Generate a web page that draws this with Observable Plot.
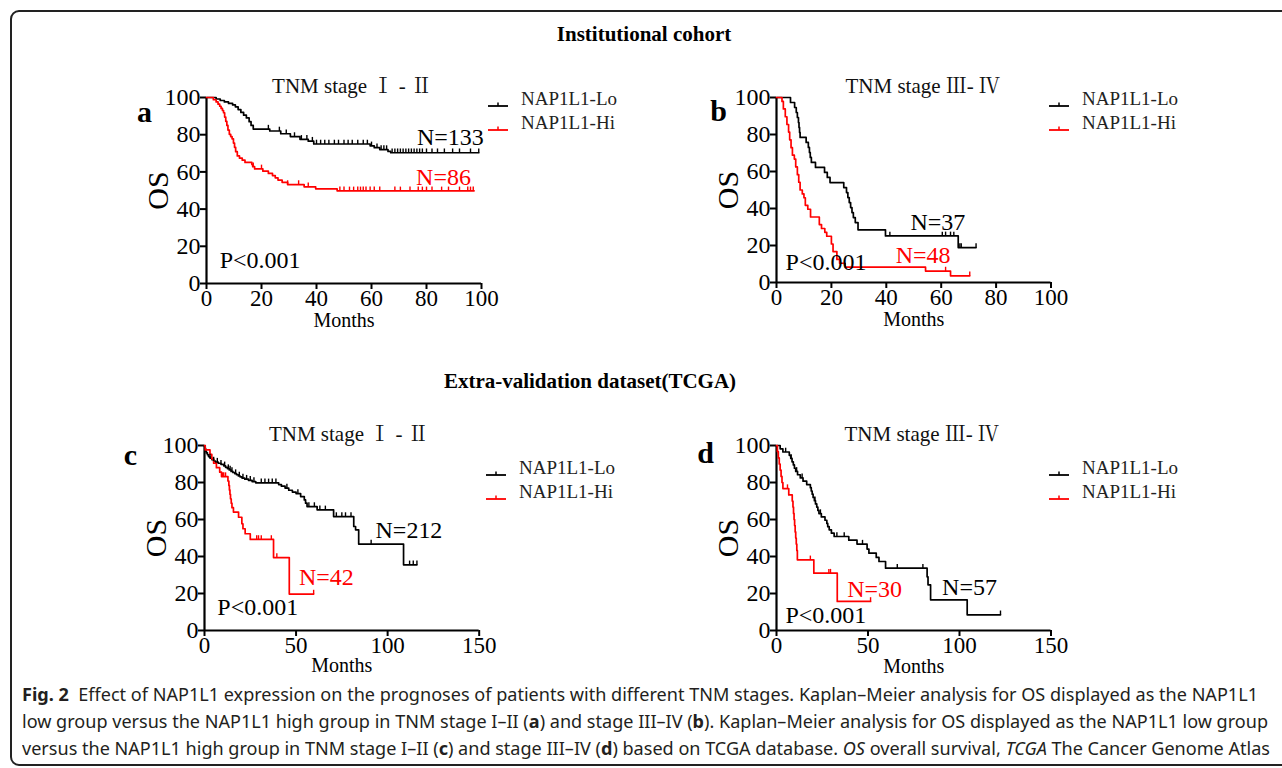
<!DOCTYPE html>
<html><head><meta charset="utf-8">
<script src="https://cdn.jsdelivr.net/npm/d3@7"></script>
<script src="https://cdn.jsdelivr.net/npm/@observablehq/plot@0.6"></script>
<style>
html,body{margin:0;padding:0;background:#fff;}
body{width:1282px;height:768px;overflow:hidden;position:relative;font-family:"Liberation Serif","Times New Roman",serif;}
#box{position:absolute;left:10px;top:10px;width:1300px;height:752px;border:2px solid #222;border-radius:9px;}
.abs{position:absolute;}
.sect{position:absolute;font-weight:bold;font-size:21px;transform:translate(-50%,-50%);white-space:nowrap;color:#000;}
.leg{position:absolute;font-size:19px;color:#222;white-space:nowrap;line-height:1;}
.cap{position:absolute;left:22px;font-family:"Noto Sans","Open Sans",sans-serif;font-size:18px;color:#231f20;white-space:nowrap;transform-origin:0 50%;line-height:1;}
.cap b{font-weight:700;}
svg{overflow:visible;}
</style>
</head><body>
<div id="box"></div>
<div id="root"></div>
<script>
// ---------- Data ----------
// Each step array: [months, OS %] = survival drops to value at that time
const aLo = [[0,100],[3.5,99.2],[5,98.4],[6.5,97.6],[8,96.8],[9.5,96],[10.5,95],[11.5,93.5],[12.5,92],[13.5,90.5],[14.5,89],[15.5,87],[16.2,85],[17,83],[23,82],[27,80.5],[30.5,79],[34,77.5],[37,76.5],[39,75],[59.5,74],[61,73],[63,72],[66,71],[67,70.3]];
const aLoEnd = 99;
const aLoCens = [22.5,26.5,29,32,34.5,36.5,38.5,40,41.5,43,44.5,46.5,48,50,51.5,53,55,57,58.5,60,62,63.5,64.5,65.5,67.5,68.5,69.5,70.5,71.5,72.5,73.5,74.5,75.5,76.5,77.5,78.5,80,82,84,86.5,89.5,92,96,99];
const aHi = [[0,100],[2.5,98.8],[3.5,97.6],[4.2,96.4],[4.8,95.3],[5.3,94.1],[5.8,93],[6.2,91.8],[6.6,89.5],[7,87.2],[7.4,85],[7.8,82.5],[8.3,80.2],[8.8,79],[9.3,77.8],[9.8,75.5],[10.2,73.2],[10.6,70.9],[11.2,68.6],[12,67.4],[13,66.3],[14,65.1],[16.5,64],[16.8,62.8],[17.5,61.6],[20.5,60.4],[22.5,59.2],[24,58],[25,56.8],[26,55.6],[27.5,54.4],[29.5,53.2],[35.5,52],[39.7,50.9],[47.5,49.8]];
const aHiEnd = 97.3;
const aHiCens = [17,20,29.5,33.5,37,48.5,50,52,53.5,55,56,57,58,59.5,61,63,68.5,70.5,74,77,78.5,80,82,85.5,88,92,95,96,97];

const bLo = [[0,100],[5.1,97.3],[6.6,94.6],[7.2,91.9],[7.6,89.2],[8,86.5],[8.2,83.8],[8.4,81.1],[8.6,78.4],[10.8,75.7],[11.6,73],[12,70.3],[12.3,67.6],[12.7,64.9],[14.2,62.2],[17.5,59.5],[18.5,56.8],[19.5,54],[24.5,51.3],[25.5,48.6],[26,45.9],[26.5,43.2],[27,40.5],[27.5,37.8],[28,35.1],[28.7,32.4],[29.7,28.5],[39.7,25.2],[66.2,18.9]];
const bLoEnd = 72.7;
const bLoCens = [41.3,60.4,61.6,63.4,64.6,66.8,67.3,72.7];
const bHi = [[0,100],[2,97.9],[2.5,93.8],[3.2,89.6],[3.8,85.4],[4.4,81.3],[4.8,77.1],[5.3,72.9],[5.8,68.8],[6.5,66.7],[7,62.5],[7.6,58.3],[8.1,54.2],[8.6,50],[9.4,47.9],[10,45.8],[10.5,41.7],[11.4,39.6],[12.4,35.4],[15.6,31.3],[16.4,29.2],[17.6,27.1],[18.3,25],[20,20.8],[20.6,16.7],[22,12.5],[23,10.4],[25,8.3],[54.3,6.2],[63.4,3.6]];
const bHiEnd = 70.4;
const bHiCens = [61.6,70.4];

const cLo = [[0,100],[0.3,98.5],[0.6,97],[1,96],[1.6,95],[2.2,94],[3,93.2],[4,92.4],[5,91.6],[6,91],[7.5,90.4],[9,89.8],[10.5,89],[11.5,88.2],[12.5,87.5],[13.5,86.8],[14.5,86],[15.5,85.4],[16.5,84.8],[17.5,84.2],[18.5,83.5],[19.5,83],[20.5,82.4],[22,81.8],[24,81.2],[26,80.5],[28,79.8],[40.5,78.9],[42,78],[44,77],[46,75.8],[48,74.8],[50,74],[52.5,72.4],[54.5,70.6],[55.2,68.8],[56,67],[61.5,65.2],[70.5,61.6],[81.5,56.2],[82.5,54.4],[84.2,46.7],[108.7,35.5]];
const cLoEnd = 116;
const cLoCens = [3,5,7,9,11,13,14,15,17,19,21,23,25,27,31,33,35,37,39,45,51,57,60,63,66,72,75,77,80,91,112,114,116];
const cHi = [[0,100],[0.4,97.6],[3,95.2],[4,92.8],[5,90.4],[6.5,88],[8.3,85.6],[9.3,83.2],[12.8,80.8],[13.3,78.4],[13.6,76],[13.9,73.6],[14.2,71.2],[14.6,68.8],[15,66.4],[15.8,64],[18.6,61.2],[20.4,57.7],[21,55],[22.2,52.3],[25,49.2],[37.7,39.4],[46.3,19.7]];
const cHiEnd = 59.6;
const cHiCens = [9.8,10.5,11.5,28.5,29.5,31,36.5,39.5,59.6];

const dLo = [[0,100],[2,98.2],[3.5,96.5],[7,94.7],[7.8,93],[8.5,91.2],[9.2,89.5],[9.8,87.7],[10.5,86],[11.5,84.2],[13,82.5],[14.5,80.7],[16.5,78.9],[18.5,77.2],[19,75.4],[19.5,73.7],[20,71.9],[20.7,70.2],[21.3,68.4],[22,66.7],[22.6,64.9],[23.2,63.2],[24.5,61.4],[26.5,59.6],[27.5,57.9],[28,56.1],[28.8,54.4],[30,52.6],[31.5,50.8],[39.5,48.8],[44,46.7],[49.5,44],[50.5,41.8],[54.5,39.5],[56,37.3],[59.6,33.7],[82.3,29],[82.8,24.7],[84.2,16.6],[104.2,8.5]];
const dLoEnd = 122.4;
const dLoCens = [5,8,11,14,21,24,33,37,47,66,80,122.4];
const dHi = [[0,100],[0.5,96.7],[1,93.3],[1.5,90],[2,86.7],[2.5,83.3],[3,80],[3.5,76.7],[6.7,73.3],[8.6,70],[9,66.7],[9.3,63.3],[9.6,60],[9.9,56.7],[10.2,53.3],[10.5,50],[10.8,46.7],[11.1,43.3],[11.4,38.2],[20.4,31],[33.2,15.7]];
const dHiEnd = 51.4;
const dHiCens = [6,18.5,28.6,29.5,51.4];

const yTicks = [0,20,40,60,80,100];
const xTicksAB = [0,20,40,60,80,100];
const xTicksCD = [0,50,100,150];
const seriesNames = ["NAP1L1-Lo","NAP1L1-Hi"];
const titles = ["TNM stage \u2160 - \u2161","TNM stage \u2162- \u2163","TNM stage \u2160 - \u2161","TNM stage \u2162- \u2163"];
const nLabels = [["N=133","N=86"],["N=37","N=48"],["N=212","N=42"],["N=57","N=30"]];
const pLabel = "P<0.001";

// ---------- helpers ----------
const LO = "#000000", HI = "#ff0000";
function km(steps, end){ const p = steps.map(([t,s])=>({t,s})); p.push({t:end,s:steps[steps.length-1][1]}); return p; }
function survAt(steps, t){ let s=100; for(const [tt,ss] of steps){ if(tt<=t) s=ss; } return s; }

function panel(cfg){
  const mL=80,mT=45,mR=14,mB=58;
  const root=document.getElementById("root");
  const serif = "'Liberation Serif','Times New Roman','Noto Serif CJK SC','Noto Sans CJK SC',serif";
  const chart = Plot.plot({
    width:mL+cfg.pw+mR, height:mT+cfg.ph+mB,
    marginLeft:mL, marginTop:mT, marginRight:mR, marginBottom:mB,
    x:{domain:[0,cfg.xmax]},
    y:{domain:[0,100]},
    style:{fontFamily:serif, fontSize:"24px", color:"#000", background:"transparent"},
    marks:[
      Plot.axisX({ticks:cfg.xticks, tickSize:6, tickPadding:0, label:null, fontSize:23, strokeWidth:2}),
      Plot.axisY({ticks:yTicks, tickSize:6, tickPadding:0, label:null, fontSize:24, strokeWidth:2}),
      Plot.ruleY([0],{strokeWidth:2.2}),
      Plot.ruleX([0],{strokeWidth:2.2}),
      Plot.line(km(cfg.lo,cfg.loEnd),{x:"t",y:"s",curve:"step-after",stroke:LO,strokeWidth:1.7}),
      Plot.line(km(cfg.hi,cfg.hiEnd),{x:"t",y:"s",curve:"step-after",stroke:HI,strokeWidth:1.7}),
      Plot.link(cfg.loCens,{x1:d=>d,x2:d=>d,y1:d=>survAt(cfg.lo,d),y2:d=>survAt(cfg.lo,d)+2.3,stroke:LO,strokeWidth:1.4}),
      Plot.link(cfg.hiCens,{x1:d=>d,x2:d=>d,y1:d=>survAt(cfg.hi,d),y2:d=>survAt(cfg.hi,d)+2.3,stroke:HI,strokeWidth:1.4}),
      Plot.text([cfg.title],{frameAnchor:"top",dx:cfg.titleDx,dy:-19,fontSize:21,fill:"#111"}),
      Plot.text([cfg.letter],{frameAnchor:"top-left",dx:cfg.letterDx,dy:cfg.letterDy,fontSize:30,fontWeight:"bold",textAnchor:"middle"}),
      Plot.text(["OS"],{frameAnchor:"left",dx:-48,rotate:-90,fontSize:30,textAnchor:"middle"}),
      Plot.text(["Months"],{frameAnchor:"bottom",dy:cfg.monthsDy,fontSize:20}),
      Plot.text([cfg.nLo],{x:cfg.nLoPos[0],y:cfg.nLoPos[1],textAnchor:"start",fontSize:24,fill:LO}),
      Plot.text([cfg.nHi],{x:cfg.nHiPos[0],y:cfg.nHiPos[1],textAnchor:"start",fontSize:24,fill:HI}),
      Plot.text([pLabel],{x:cfg.pPos[0],y:cfg.pPos[1],textAnchor:"start",fontSize:24,fill:"#000"})
    ]
  });
  const wrap=document.createElement("div");
  wrap.className="abs";
  wrap.style.left=(cfg.px0-mL)+"px";
  wrap.style.top=(cfg.py0-mT)+"px";
  wrap.appendChild(chart);
  root.appendChild(wrap);
  // legend
  seriesNames.forEach((name,i)=>{
    const col = i===0?LO:HI;
    const y = cfg.legY + i*23.5;
    const sw=document.createElement("div");
    sw.className="abs";
    sw.style.left=cfg.legX+"px"; sw.style.top=(y-4)+"px";
    sw.innerHTML=`<svg width="22" height="8"><line x1="0" x2="20" y1="5" y2="5" stroke="${col}" stroke-width="1.8"/><line x1="10" x2="10" y1="1.5" y2="5" stroke="${col}" stroke-width="1.5"/></svg>`;
    root.appendChild(sw);
    const t=document.createElement("div");
    t.className="leg"; t.textContent=name;
    t.style.left=(cfg.legX+33)+"px"; t.style.top=(y-10)+"px";
    root.appendChild(t);
  });
}

panel({px0:206,py0:96.7,pw:275,ph:186,xmax:100,xticks:xTicksAB,lo:aLo,loEnd:aLoEnd,hi:aHi,hiEnd:aHiEnd,loCens:aLoCens,hiCens:aHiCens,monthsDy:43,
  title:titles[0],titleDx:8,letter:"a",letterDx:-62,letterDy:3,nLo:nLabels[0][0],nHi:nLabels[0][1],nLoPos:[76.5,78.5],nHiPos:[76.2,57.1],pPos:[4.8,12.2],legX:488,legY:99});
panel({px0:776,py0:97.3,pw:274.5,ph:185,xmax:100,xticks:xTicksAB,lo:bLo,loEnd:bLoEnd,hi:bHi,hiEnd:bHiEnd,loCens:bLoCens,hiCens:bHiCens,monthsDy:43,
  title:titles[1],titleDx:9,letter:"b",letterDx:-58,letterDy:2,nLo:nLabels[1][0],nHi:nLabels[1][1],nLoPos:[48.8,32.7],nHiPos:[43.4,14.7],pPos:[3.3,11.1],legX:1049,legY:99});
panel({px0:204,py0:445.3,pw:274.7,ph:185,xmax:150,xticks:xTicksCD,lo:cLo,loEnd:cLoEnd,hi:cHi,hiEnd:cHiEnd,loCens:cLoCens,hiCens:cHiCens,monthsDy:42,
  title:titles[2],titleDx:7,letter:"c",letterDx:-74,letterDy:-2,nLo:nLabels[2][0],nHi:nLabels[2][1],nLoPos:[93.4,54],nHiPos:[51.6,28.9],pPos:[7,12.7],legX:486,legY:468});
panel({px0:776,py0:445.3,pw:274.5,ph:185,xmax:150,xticks:xTicksCD,lo:dLo,loEnd:dLoEnd,hi:dHi,hiEnd:dHiEnd,loCens:dLoCens,hiCens:dHiCens,monthsDy:42,
  title:titles[3],titleDx:8,letter:"d",letterDx:-71,letterDy:-4,nLo:nLabels[3][0],nHi:nLabels[3][1],nLoPos:[90.5,23.5],nHiPos:[38.6,22.3],pPos:[4.9,8.2],legX:1049,legY:468});
</script>
<div class="sect" style="left:644px;top:34px;">Institutional cohort</div>
<div class="sect" style="left:590px;top:381px;">Extra-validation dataset(TCGA)</div>
<div class="cap" id="c1" style="top:685px;"><b>Fig. 2</b>&nbsp; Effect of NAP1L1 expression on the prognoses of patients with different TNM stages. Kaplan–Meier analysis for OS displayed as the NAP1L1</div>
<div class="cap" id="c2" style="top:712px;">low group versus the NAP1L1 high group in TNM stage I–II (<b>a</b>) and stage III–IV (<b>b</b>). Kaplan–Meier analysis for OS displayed as the NAP1L1 low group</div>
<div class="cap" id="c3" style="top:739px;">versus the NAP1L1 high group in TNM stage I–II (<b>c</b>) and stage III–IV (<b>d</b>) based on TCGA database. <i>OS</i> overall survival, <i>TCGA</i> The Cancer Genome Atlas</div>
<script>
[["c1",1236],["c2",1246],["c3",1248]].forEach(([id,w])=>{
  const el=document.getElementById(id);
  const r=el.getBoundingClientRect().width;
  el.style.transform=`scaleX(${w/r})`;
});
</script>
</body></html>
